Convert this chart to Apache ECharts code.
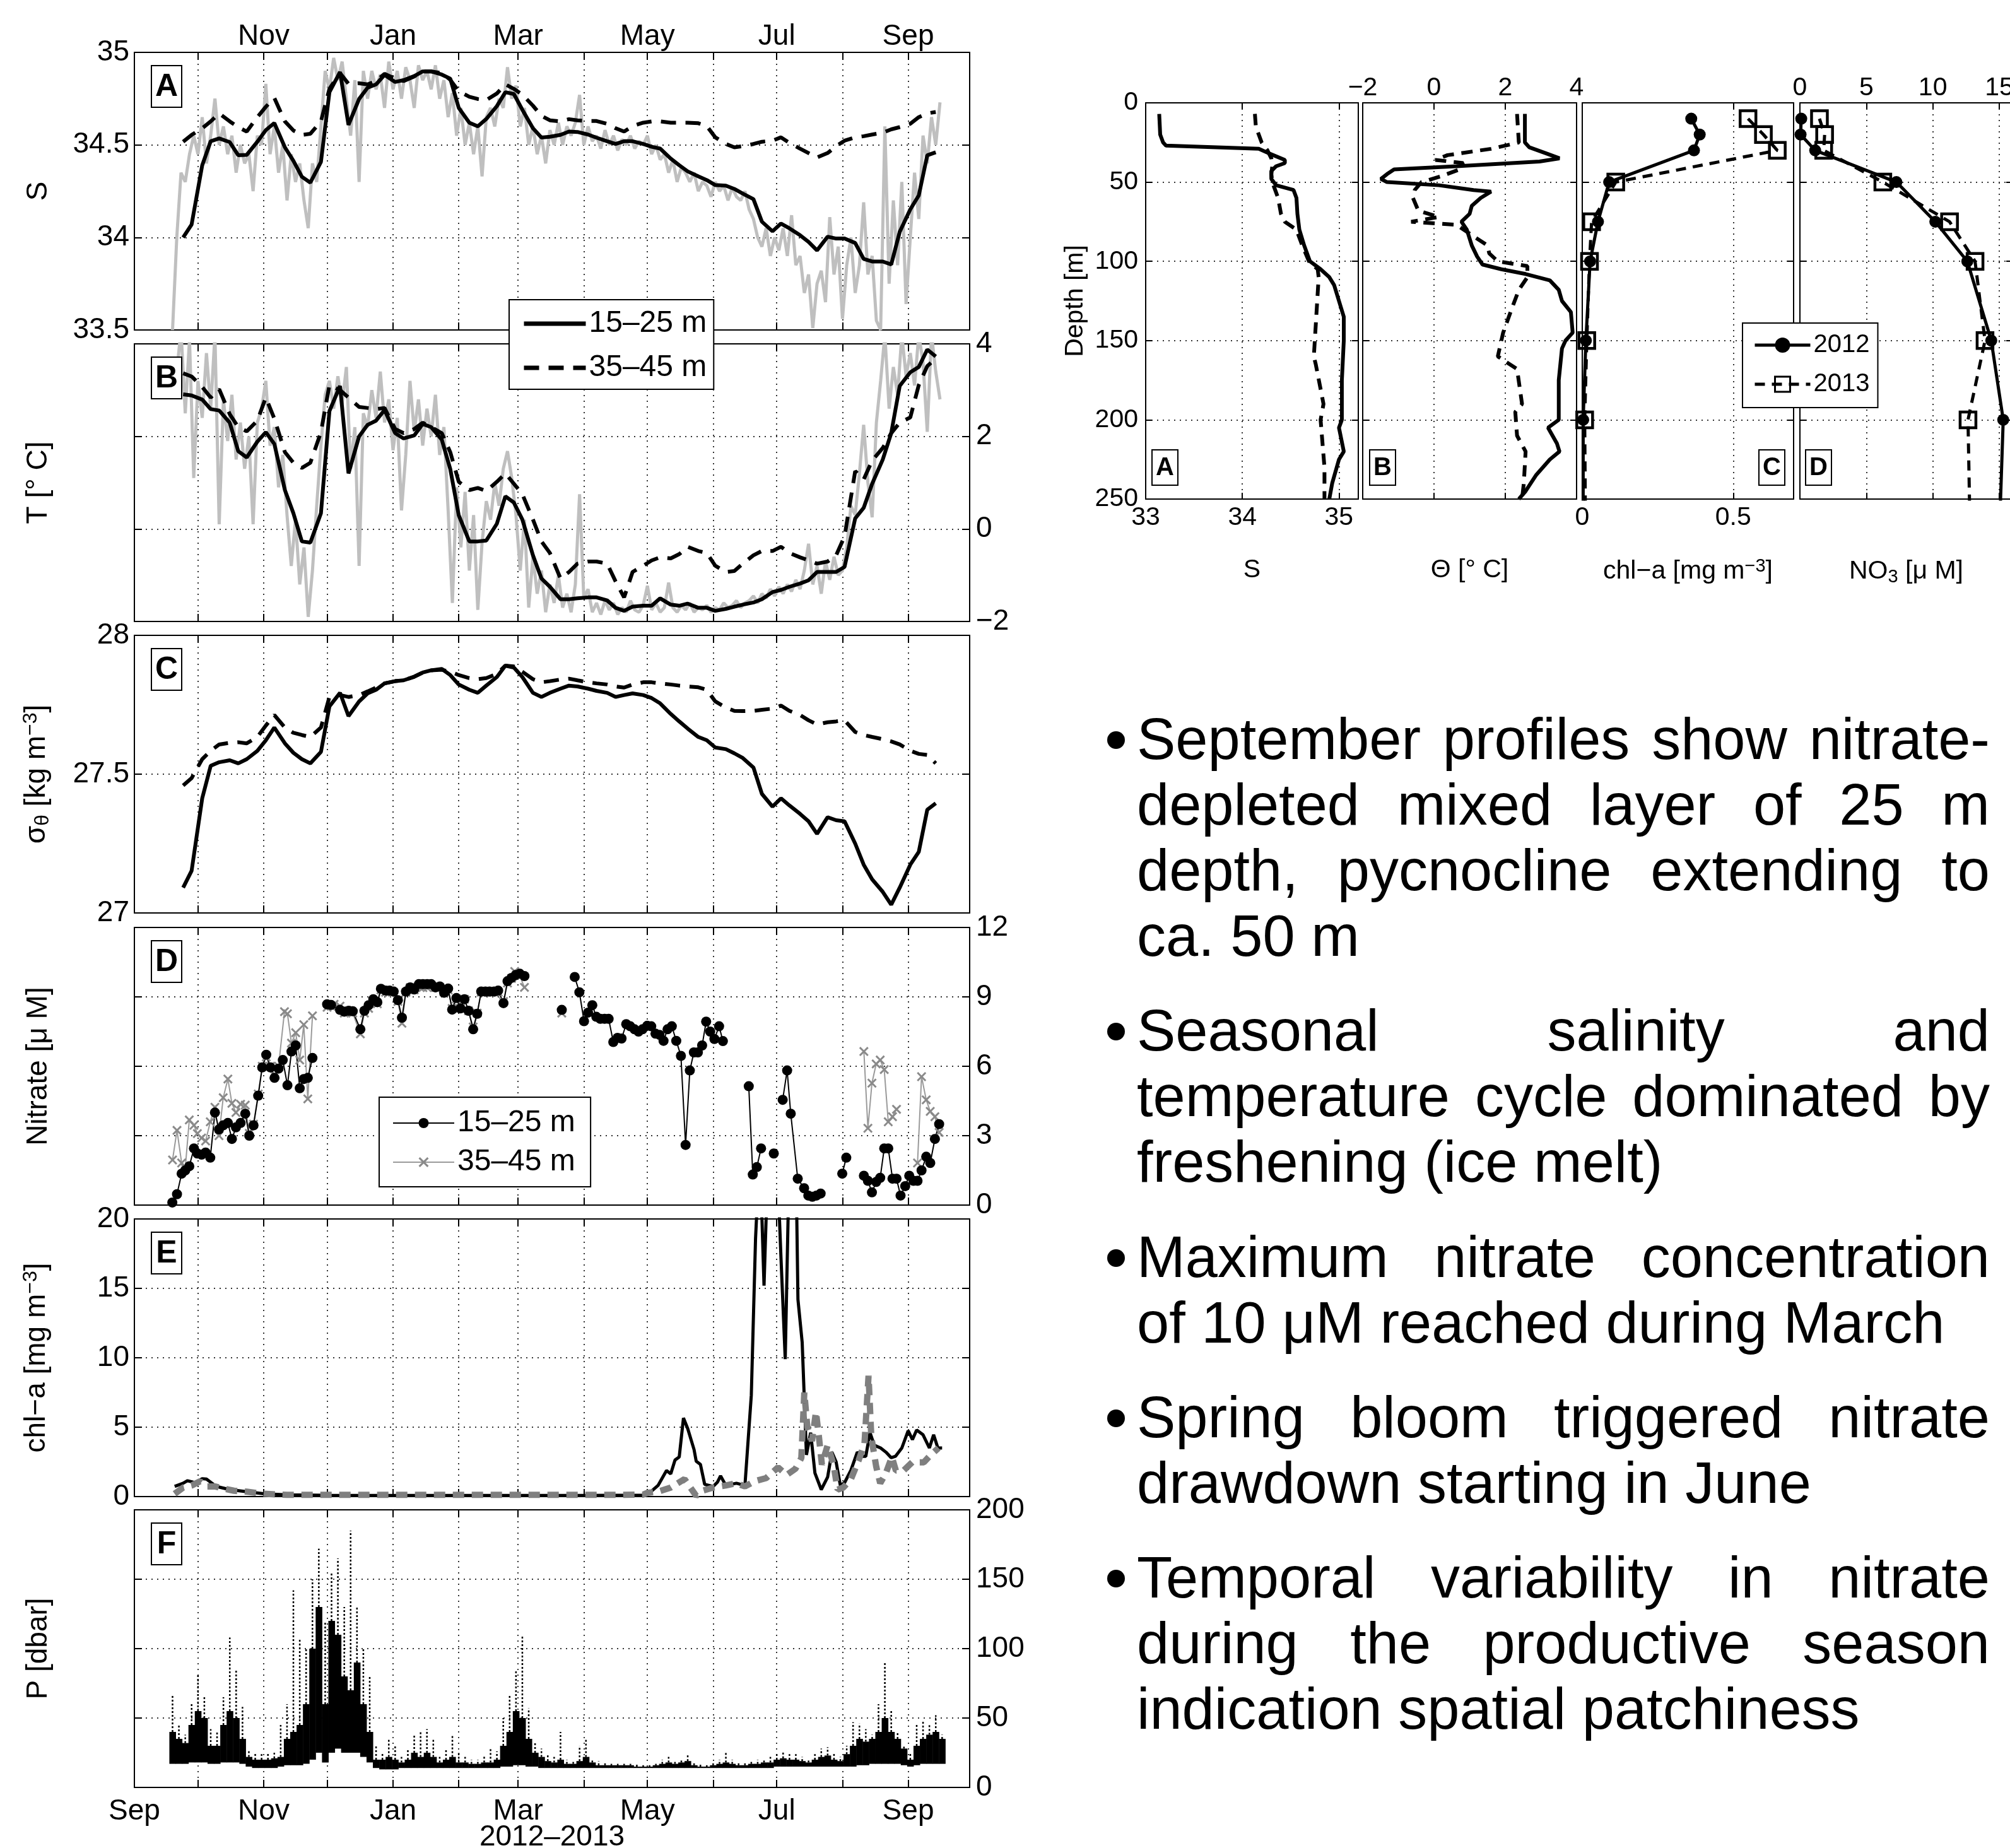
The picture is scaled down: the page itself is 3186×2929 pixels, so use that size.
<!DOCTYPE html>
<html>
<head>
<meta charset="utf-8">
<title>Mooring time series 2012-2013 and September profiles</title>
<script src="https://cdn.jsdelivr.net/npm/echarts@6.0.0/dist/echarts.min.js"></script>
<style>
  html, body { margin: 0; padding: 0; background: #fff; }
  #chart { width: 3186px; height: 2929px; }
</style>
</head>
<body>
<div id="chart"></div>
<script>
// ---------- data (days counted from 1 Sep 2012) ----------
const monthDays = [0, 30, 61, 91, 122, 153, 181, 212, 242, 273, 303, 334, 365];
const monthNames = ['Sep', 'Oct', 'Nov', 'Dec', 'Jan', 'Feb', 'Mar', 'Apr', 'May', 'Jun', 'Jul', 'Aug', 'Sep'];
const bottomMonthLabels = [0, 61, 122, 181, 242, 303, 365];
const topMonthLabels = [61, 122, 181, 242, 303, 365];

const sTicks = [33.5, 34, 34.5, 35];
const tTicks = [-2, 0, 2, 4];
const sigTicks = [27, 27.5, 28];
const nitTicks = [0, 3, 6, 9, 12];
const chlTicks = [0, 5, 10, 15, 20];
const pTicks = [0, 50, 100, 150, 200];
const depthTicks = [0, 50, 100, 150, 200, 250];
const salProfTicks = [33, 34, 35];
const thetaProfTicks = [-2, 0, 2, 4];
const chlProfTicks = [0, 0.5];
const no3ProfTicks = [0, 5, 10, 15];

// weekly-ish smoothed series (panels A-C)
const wkDays = [23, 27, 32, 36, 40, 45, 49, 53, 58, 62, 66, 71, 75, 79, 83, 88, 92, 97, 101, 106,
  110, 114, 118, 123, 127, 132, 136, 140, 145, 149, 153, 158, 162, 166, 171, 175, 179, 183, 188, 192,
  196, 201, 205, 209, 214, 218, 223, 227, 231, 235, 240, 244, 248, 253, 257, 261, 266, 270, 274, 279,
  283, 287, 292, 296, 301, 305, 309, 314, 318, 322, 327, 331, 335, 340, 344, 348, 353, 357, 361, 366,
  370, 374, 378];
const sShallow = [34.0, 34.07, 34.39, 34.52, 34.535, 34.515, 34.444, 34.446, 34.517, 34.58,
  34.618, 34.487, 34.414, 34.328, 34.296, 34.408, 34.785, 34.894, 34.608, 34.748,
  34.809, 34.827, 34.878, 34.84, 34.85, 34.872, 34.897, 34.897, 34.88, 34.858,
  34.70, 34.62, 34.60, 34.64, 34.71, 34.785, 34.775, 34.69, 34.59, 34.54,
  34.544, 34.554, 34.572, 34.57, 34.556, 34.539, 34.52, 34.505, 34.52, 34.52,
  34.505, 34.49, 34.48, 34.426, 34.39, 34.357, 34.33, 34.31, 34.283, 34.28,
  34.262, 34.237, 34.207, 34.085, 34.033, 34.075, 34.049, 34.012, 33.976, 33.93,
  34.004, 33.994, 33.994, 33.97, 33.884, 33.87, 33.87, 33.854, 34.03, 34.152,
  34.227, 34.444, 34.46];
const sDeep = [34.517, 34.554, 34.59, 34.627, 34.67, 34.627, 34.596, 34.572, 34.65, 34.706,
  34.754, 34.627, 34.578, 34.554, 34.56, 34.627, 34.803, 34.888, 34.83, 34.833,
  34.827, 34.845, 34.884, 34.858, 34.845, 34.87, 34.897, 34.897, 34.888, 34.852,
  34.79, 34.76, 34.748, 34.742, 34.778, 34.827, 34.803, 34.772, 34.712, 34.657,
  34.633, 34.627, 34.639, 34.633, 34.629, 34.629, 34.614, 34.59, 34.572, 34.602,
  34.62, 34.627, 34.627, 34.62, 34.62, 34.62, 34.617, 34.602, 34.541, 34.505,
  34.487, 34.493, 34.505, 34.517, 34.523, 34.541, 34.511, 34.48, 34.456, 34.432,
  34.456, 34.493, 34.523, 34.541, 34.547, 34.556, 34.566, 34.584, 34.596, 34.614,
  34.65, 34.67, 34.678];
const tShallow = [2.91, 2.886, 2.795, 2.59, 2.56, 2.295, 1.68, 1.545, 1.886, 2.09,
  1.84, 0.84, 0.34, -0.27, -0.295, 0.34, 2.545, 3.09, 1.2, 2.0,
  2.25, 2.34, 2.57, 2.07, 1.955, 2.02, 2.27, 2.2, 1.93, 1.295,
  0.295, -0.27, -0.27, -0.25, 0.114, 0.705, 0.57, 0.205, -0.57, -1.07,
  -1.25, -1.52, -1.52, -1.5, -1.48, -1.48, -1.545, -1.705, -1.77, -1.68,
  -1.66, -1.66, -1.5, -1.636, -1.66, -1.614, -1.705, -1.705, -1.77, -1.727,
  -1.68, -1.636, -1.59, -1.52, -1.364, -1.318, -1.25, -1.18, -1.11, -0.93,
  -0.93, -0.93, -0.82, 0.227, 0.455, 0.977, 1.5, 2.07, 3.09, 3.386,
  3.5, 3.877, 3.727];
const tDeep = [3.364, 3.295, 3.068, 2.84, 3.02, 2.477, 2.2, 2.11, 2.34, 2.84,
  2.386, 1.66, 1.43, 1.318, 1.43, 2.09, 3.11, 3.0, 2.84, 2.636,
  2.614, 2.59, 2.614, 2.16, 2.07, 2.16, 2.295, 2.2, 2.07, 1.66,
  1.02, 0.84, 0.886, 0.82, 1.02, 1.2, 0.977, 0.75, 0.205, -0.27,
  -0.52, -1.07, -0.93, -0.75, -0.705, -0.705, -0.75, -1.136, -1.48, -0.93,
  -0.795, -0.68, -0.614, -0.636, -0.545, -0.386, -0.477, -0.52, -0.795, -0.93,
  -0.91, -0.75, -0.57, -0.477, -0.477, -0.386, -0.52, -0.614, -0.68, -0.75,
  -0.705, -0.57, -0.16, 1.25, 1.07, 1.477, 1.75, 2.07, 2.295, 2.41,
  3.11, 3.52, 3.68];
const sigShallow = [27.091, 27.152, 27.413, 27.53, 27.543, 27.55, 27.539, 27.554, 27.584, 27.622,
  27.668, 27.611, 27.577, 27.554, 27.539, 27.58, 27.744, 27.793, 27.709, 27.762,
  27.791, 27.804, 27.827, 27.835, 27.838, 27.851, 27.866, 27.874, 27.879, 27.857,
  27.823, 27.804, 27.793, 27.819, 27.85, 27.891, 27.884, 27.85, 27.793, 27.778,
  27.793, 27.808, 27.819, 27.816, 27.808, 27.8, 27.793, 27.778, 27.785, 27.791,
  27.785, 27.774, 27.755, 27.717, 27.69, 27.664, 27.634, 27.622, 27.596, 27.59,
  27.575, 27.558, 27.524, 27.429, 27.383, 27.413, 27.387, 27.357, 27.33, 27.285,
  27.345, 27.334, 27.33, 27.25, 27.174, 27.121, 27.076, 27.03, 27.091, 27.174,
  27.22, 27.372, 27.395];
const sigDeep = [27.459, 27.486, 27.554, 27.584, 27.607, 27.613, 27.615, 27.611, 27.634, 27.675,
  27.713, 27.668, 27.649, 27.641, 27.634, 27.668, 27.778, 27.785, 27.778, 27.785,
  27.798, 27.812, 27.827, 27.835, 27.838, 27.851, 27.866, 27.874, 27.876, 27.869,
  27.857, 27.846, 27.842, 27.846, 27.861, 27.891, 27.888, 27.869, 27.842, 27.831,
  27.835, 27.841, 27.844, 27.838, 27.831, 27.827, 27.823, 27.816, 27.812, 27.823,
  27.831, 27.831, 27.827, 27.823, 27.819, 27.816, 27.813, 27.804, 27.762, 27.74,
  27.728, 27.727, 27.728, 27.732, 27.736, 27.747, 27.728, 27.713, 27.694, 27.679,
  27.687, 27.69, 27.694, 27.652, 27.641, 27.634, 27.626, 27.618, 27.607, 27.584,
  27.573, 27.569, 27.539];

// raw 15-25 m record (grey, panels A and B)
const rawDays = [18, 20, 22, 24, 26, 28, 30, 32, 34, 36, 38, 40, 42, 44, 46, 48, 50, 52, 54, 56,
  58, 60, 62, 64, 66, 68, 70, 72, 74, 76, 78, 80, 82, 84, 86, 88, 90, 92, 94, 96,
  98, 100, 102, 104, 106, 108, 110, 112, 114, 116, 118, 120, 122, 124, 126, 128, 130, 132, 134, 136,
  138, 140, 142, 144, 146, 148, 150, 152, 154, 156, 158, 160, 162, 164, 166, 168, 170, 172, 174, 176,
  178, 180, 182, 184, 186, 188, 190, 192, 194, 196, 198, 200, 202, 204, 206, 208, 210, 212, 214, 216,
  218, 220, 222, 224, 226, 228, 230, 232, 234, 236, 238, 240, 242, 244, 246, 248, 250, 252, 254, 256,
  258, 260, 262, 264, 266, 268, 270, 272, 274, 276, 278, 280, 282, 284, 286, 288, 290, 292, 294, 296,
  298, 300, 302, 304, 306, 308, 310, 312, 314, 316, 318, 320, 322, 324, 326, 328, 330, 332, 334, 336,
  338, 340, 342, 344, 346, 348, 350, 352, 354, 356, 358, 360, 362, 364, 366, 368, 370, 372, 374, 376,
  378, 380];
const rawS = [33.5, 34.0, 34.35, 34.3, 34.45, 34.55, 34.45, 34.65, 34.4, 34.55,
  34.75, 34.5, 34.6, 34.45, 34.55, 34.35, 34.5, 34.4, 34.45, 34.25,
  34.55, 34.5, 34.83, 34.45, 34.6, 34.35, 34.5, 34.2, 34.45, 34.3,
  34.4, 34.2, 34.05, 34.4, 34.3, 34.6, 34.9, 34.8, 34.97, 34.85,
  34.95, 34.75, 34.55, 34.85, 34.3, 34.9, 34.75, 34.9, 34.8, 34.88,
  34.7, 34.95, 34.8, 34.9, 34.75, 34.92, 34.85, 34.7, 34.93, 34.85,
  34.9, 34.8, 34.93, 34.75, 34.85, 34.65, 34.78, 34.55, 34.7, 34.5,
  34.62, 34.45, 34.6, 34.33, 34.65, 34.7, 34.6, 34.75, 34.7, 34.92,
  34.75, 34.82, 34.6, 34.7, 34.5, 34.6, 34.45, 34.55, 34.4, 34.58,
  34.5, 34.62, 34.5, 34.6, 34.55, 34.62, 34.77, 34.5, 34.6, 34.52,
  34.55, 34.48, 34.58, 34.5, 34.55, 34.47, 34.53, 34.5, 34.55, 34.48,
  34.52, 34.5, 34.55, 34.45, 34.5, 34.42, 34.45, 34.35, 34.42, 34.3,
  34.38, 34.35, 34.3, 34.35, 34.25, 34.3, 34.28, 34.22, 34.3, 34.25,
  34.28, 34.2, 34.27, 34.22, 34.2, 34.25, 34.15, 34.1, 34.0, 33.95,
  34.05, 33.9, 34.0, 33.93, 34.05, 33.9, 34.12, 33.85, 33.9, 33.7,
  33.8, 33.51, 33.75, 33.82, 33.65, 34.11, 33.8, 33.95, 33.56, 33.85,
  34.0, 33.7, 33.85, 34.19, 33.8, 33.9, 33.55, 33.5, 34.6, 33.75,
  34.2, 33.85, 34.3, 33.64, 34.0, 34.35, 34.1, 34.55, 34.4, 34.65,
  34.5, 34.73];
const rawT = [3.0, 3.4, 4.3, 2.5, 4.1, 1.1, 3.2, 2.4, 3.8, 2.6,
  4.2, 0.1, 2.8, 1.9, 2.9, 1.5, 2.3, 1.3, 2.0, 0.1,
  2.3, 2.6, 3.2, 1.8, 2.2, 0.9, 1.6, 0.3, -0.8, 0.2,
  -1.2, -0.4, -1.9, -0.9, 0.5, 1.8, 2.9, 3.2, 2.6, 3.3,
  2.7, 3.5, 1.3, 2.2, -0.8, 2.5, 2.2, 3.0, 2.4, 3.4,
  2.3, 2.8, 1.7, 2.4, 0.4, 1.6, 3.2, 2.1, 2.8, 1.8,
  2.6, 2.0, 2.9, 1.6, 2.2, 0.4, -1.6, 0.9, -0.4, 0.8,
  -0.9, 0.3, -1.75, -0.3, 0.6, 0.2, 1.0, 0.5, 1.3, 1.68,
  1.1, 0.3, -0.9, 0.2, -1.7, -0.6, -1.4, -0.9, -1.8, -1.2,
  -1.6, -1.0, -1.7, -1.4, -1.8, -1.2, 0.75, -1.5, -1.3, -1.8,
  -1.6, -1.85, -1.55, -1.75, -1.6, -1.85, -1.7, -1.8, -1.55, -1.75,
  -1.8, -1.65, -1.23, -1.75, -1.6, -1.8, -1.7, -1.16, -1.7, -1.8,
  -1.65, -1.75, -1.6, -1.8, -1.7, -1.75, -1.65, -1.8, -1.7, -1.75,
  -1.6, -1.7, -1.65, -1.55, -1.7, -1.6, -1.55, -1.45, -1.6, -1.4,
  -1.5, -1.3, -1.45, -1.25, -1.4, -1.2, -1.35, -1.1, -1.3, -0.9,
  -0.32, -1.2, -0.8, -1.4, -0.7, -1.1, -0.6, -1.0, -0.9, -0.4,
  0.5, 0.3, 1.2, 2.25, 1.0, 0.25, 2.3, 3.2, 4.2, 2.6,
  3.5, 2.9, 4.2, 3.3, 3.8, 3.1, 4.2, 3.6, 2.1, 4.2,
  3.4, 2.8];

// nitrate (panel D), null = gap in record
const nShallowDays = [17.9, 20.1, 22.3, 24, 25.9, 28.1, 29.7, 31.7, 33.6, 35.8,
  38, 39.9, 41.9, 44.1, 46, 47.9, 50.1, 52.3, 54.2, 56.2,
  58.4, 60.3, 62.2, 64.2, 66.1, 68, 70, 72.2, 74.1, 76.1,
  78, 79.9, 81.8, 84, 87, 90.9, 92.8, 97, 99, 101.1,
  103, 106.6, 108.5, 110.5, 112.7, 114.6, 116.3, 118.5, 120.4, 122.3,
  124.3, 126.2, 128.1, 130.1, 132, 134.2, 136.1, 138.1, 140, 142,
  144.1, 146.1, 148, 149.9, 151.9, 153.8, 155.7, 157.6, 159.8, 161.7,
  163.6, 165.6, 167.5, 169.7, 171.6, 174.1, 176, 177.9, 179.9, 181.8,
  184, 190, 201.6, 205, 207.7, 209.9, 212.1, 214, 216, 217.9,
  219.8, 221.8, 223.7, 225.9, 227.9, 229.8, 232, 233.9, 235.9, 237.8,
  239.7, 241.9, 243.8, 245.8, 247.7, 249.6, 251.5, 253.5, 255.6, 257.8,
  260, 262, 263.9, 265.8, 267.8, 269.7, 271.6, 273.6, 275.8, 277.6,
  283, 289.8, 291.7, 293.6, 295.6, 299, 301.6, 303, 305.8, 307.9,
  309.6, 312.9, 315.9, 317.9, 319.8, 321.7, 323.7, 328, 333.9, 335.8,
  340, 344.1, 346, 347.9, 349.9, 351.8, 353.7, 355.6, 357.6, 359.5,
  361.4, 363.6, 365.5, 367.5, 369.4, 371.3, 373.5, 375.4, 377.6, 379.6];
const nShallow = [0.11, 0.47, 1.36, 1.5, 1.68, 2.45, 2.23, 2.18, 2.27, 2.05,
  4.0, 3.27, 3.45, 3.55, 2.86, 3.36, 3.55, 3.95, 3.0, 3.45,
  4.73, 5.95, 6.5, 5.95, 5.5, 5.9, 6.27, 5.18, 6.64, 6.9,
  5.05, 5.45, 5.5, 6.36, null, 8.68, 8.65, 8.44, 8.36, 8.4,
  8.38, 7.6, 8.4, 8.64, 8.9, 8.77, 9.35, 9.27, 9.27, 9.23,
  8.86, 8.1, 9.23, 9.41, 9.32, 9.55, 9.55, 9.55, 9.55, 9.41,
  9.45, 9.18, 9.36, 8.45, 8.95, 8.5, 8.9, 8.4, 7.6, 8.27,
  9.23, 9.23, 9.23, 9.23, 9.27, 8.73, 9.68, 9.82, 9.95, 10.0,
  9.9, null, 8.44, null, 9.86, 9.2, 7.95, 8.32, 8.64, 8.14,
  8.05, 8.05, 8.05, 7.05, 7.23, 7.2, 7.82, 7.73, 7.6, 7.5,
  7.6, 7.75, 7.73, 7.41, 7.36, 7.1, 7.6, 7.73, 7.1, 6.45,
  2.6, 5.82, 6.6, 6.6, 6.9, 7.93, 7.5, 7.18, 7.73, 7.09,
  null, 5.14, 1.32, 1.64, 2.45, null, 2.23, null, 4.55, 5.82,
  3.95, 1.14, 0.73, 0.41, 0.36, 0.41, 0.5, null, 1.36, 2.05,
  null, 1.27, 1.05, 0.55, 1.0, 1.18, 2.45, 2.45, 1.14, 1.14,
  0.41, 0.82, 1.27, 1.05, 1.05, 1.5, 2.09, 1.82, 2.86, 3.5];
const nDeepDays = [18, 20.1, 22.3, 24, 25.9, 28.1, 29.7, 31.7, 33.6, 35.8,
  38, 39.9, 41.9, 44.1, 46, 47.9, 50.1, 52.3, 54.2, 56.2,
  58.4, 60.3, 62.2, 64.2, 66.1, 68, 70.8, 72.2, 74.1, 76.1,
  78, 79.9, 81.8, 84, 87, 90.9, 92.8, 94.2, 97, 99,
  101.1, 103, 106.6, 108.5, 110.5, 112.7, 114.6, 116.3, 118.5, 120.4,
  122.3, 124.3, 126.2, 128.1, 130.1, 132, 134.2, 136.1, 138.1, 140,
  142, 144.1, 146.1, 148, 149.9, 151.9, 153.8, 155.7, 157.6, 159.8,
  161.7, 163.6, 165.6, 167.5, 169.7, 171.6, 174.1, 176, 177.9, 179.4,
  181.8, 184, 190, 201.6, 300, 344.1, 346, 347.9, 349.9, 351.8,
  353.7, 355.6, 357.6, 359.5, 364, 369.4, 371.3, 373.5, 375.4, 377.6,
  379.6];
const nDeep = [1.95, 3.23, 1.82, 1.6, 3.68, 3.45, 3.09, 2.9, 2.77, 3.6,
  4.23, 3.0, 4.64, 5.45, 4.4, 4.0, 4.36, 4.32, 3.1, 3.5,
  4.8, 6.0, 6.4, 6.0, 5.6, 6.0, 8.36, 8.27, 7.0, 7.45,
  6.27, 7.8, 4.59, 8.18, null, 8.55, 8.6, 8.68, 8.6, 8.3,
  8.4, 8.3, 7.4, 8.3, 8.5, 8.8, 8.7, 9.3, 9.2, 9.2,
  9.2, 8.8, 7.86, 9.2, 9.4, 9.3, 9.45, 9.4, 9.4, 9.5,
  9.4, 9.4, 9.2, 9.3, 8.5, 8.9, 8.5, 8.9, 8.4, 7.7,
  8.3, 9.2, 9.2, 9.2, 9.2, 9.2, 8.8, 9.6, 9.8, 10.1,
  9.9, 9.41, null, 8.3, null, 6.64, 3.32, 5.27, 6.1, 6.27,
  5.86, 3.6, 3.82, 4.14, null, 1.82, 5.55, 4.55, 4.05, 3.82,
  3.14];

// chlorophyll (panel E)
const eShallowDays = [19, 23, 25, 29, 32, 34, 38, 40, 45, 53, 61, 72, 91, 120, 150, 180, 210, 240, 243, 247,
  251, 253, 255, 257, 259, 261, 264, 265, 267, 269, 273, 275, 276.5, 279, 281.5, 284, 288, 291, 293, 295,
  297, 299, 303, 305, 307, 309, 312, 313, 315, 317, 319, 321, 324, 327, 329, 331, 333, 335, 338, 341,
  343, 345, 347, 349, 352, 354.5, 357, 359, 362, 365, 367, 369, 372, 375, 377, 379, 381];
const eShallow = [0.73, 0.96, 1.14, 0.99, 1.29, 1.26, 0.8, 0.68, 0.5, 0.35, 0.2, 0.12, 0.09, 0.08, 0.08, 0.08, 0.08, 0.1, 0.27, 0.8,
  1.87, 1.64, 2.63, 2.85, 5.66, 4.9, 3.38, 2.55, 2.32, 0.88, 0.73, 1.03, 1.49, 0.8, 0.88, 0.96, 0.8, 7.3, 18.6, 25,
  15.2, 25, 25, 17.2, 9.9, 25, 25, 14.2, 11.1, 3.0, 4.6, 1.7, 0.5, 1.4, 3.2, 2.5, 0.8, 1.0, 1.9, 3.2,
  2.9, 2.9, 4.6, 3.7, 3.5, 3.2, 2.8, 2.9, 3.5, 4.75, 4.1, 4.8, 4.45, 3.5, 4.45, 3.5, 3.5];
const eDeepDays = [19, 23, 27, 31, 34, 38, 42, 47, 53, 61, 72, 100, 130, 160, 190, 220, 240, 242, 247, 253,
  259.5, 265, 268, 273, 279, 284, 288, 292.5, 298, 303.6, 307.7, 311.8, 314.6, 316, 317.4, 319.6, 321.5, 322.9, 324.3, 327,
  329.8, 331.7, 334.4, 338, 341.6, 344.4, 346.3, 347.6, 349.9, 351.8, 354.5, 357.3, 359.2, 362.8, 366.9, 372.4, 375.2, 379.3];
const eDeep = [0.2, 0.65, 0.8, 1.1, 0.73, 0.73, 0.58, 0.42, 0.35, 0.2, 0.12, 0.12, 0.12, 0.12, 0.12, 0.12, 0.14, 0.27, 0.35, 0.65,
  1.26, 0.05, 0.42, 0.65, 0.8, 0.96, 0.73, 1.1, 1.33, 2.1, 1.56, 2.0, 2.78, 7.5, 5.05, 4.0, 6.1, 4.3, 2.3, 3.7,
  2.3, 0.5, 0.65, 1.26, 2.6, 3.84, 8.7, 4.3, 2.17, 0.96, 1.7, 2.85, 1.87, 1.87, 2.47, 2.47, 2.93, 3.5];

// pressure (panel F): 3-day bins, lower edge / dense band top / highest excursion
const pDays = [18, 21, 24, 27, 30, 33, 36, 39, 42, 45, 48, 51, 54, 57, 60, 63, 66, 69, 72, 75,
  78, 81, 84, 87, 90, 93, 96, 99, 102, 105, 108, 111, 114, 117, 120, 123, 126, 129, 132, 135,
  138, 141, 144, 147, 150, 153, 156, 159, 162, 165, 168, 171, 174, 177, 180, 183, 186, 189, 192, 195,
  198, 201, 204, 207, 210, 213, 216, 219, 222, 225, 228, 231, 234, 237, 240, 243, 246, 249, 252, 255,
  258, 261, 264, 267, 270, 273, 276, 279, 282, 285, 288, 291, 294, 297, 300, 303, 306, 309, 312, 315,
  318, 321, 324, 327, 330, 333, 336, 339, 342, 345, 348, 351, 354, 357, 360, 363, 366, 369, 372, 375,
  378, 381];
const pLow = [17, 17, 17, 18, 18, 18, 17, 17, 18, 18, 18, 17, 15, 14, 14, 14, 14, 15, 16, 16,
  16, 17, 20, 25, 18, 25, 28, 25, 25, 25, 22, 18, 14, 13, 13, 13, 14, 14, 14, 14,
  14, 14, 14, 14, 14, 14, 14, 14, 14, 14, 14, 14, 15, 15, 16, 16, 15, 15, 14, 14,
  14, 14, 14, 14, 14, 14, 14, 14, 14, 14, 14, 14, 14, 14, 14, 14, 14, 14, 14, 14,
  14, 14, 14, 14, 14, 14, 14, 14, 14, 14, 14, 14, 14, 14, 14, 15, 15, 15, 15, 15,
  15, 15, 15, 15, 15, 15, 15, 15, 16, 16, 17, 17, 17, 17, 17, 16, 15, 16, 17, 17,
  17, 17];
const pCore = [40, 35, 32, 45, 55, 50, 30, 30, 45, 55, 50, 35, 22, 20, 20, 20, 21, 22, 35, 40,
  45, 60, 100, 130, 60, 120, 110, 80, 70, 90, 60, 40, 20, 20, 22, 20, 18, 20, 25, 22,
  25, 22, 18, 20, 22, 18, 18, 17, 17, 18, 18, 20, 30, 40, 55, 50, 35, 25, 22, 19,
  18, 20, 17, 17, 19, 22, 18, 16, 16, 16, 16, 16, 16, 15, 15, 15, 16, 17, 18, 17,
  18, 19, 16, 15, 15, 16, 17, 18, 17, 16, 16, 17, 17, 18, 18, 20, 21, 20, 20, 19,
  18, 20, 22, 23, 20, 19, 24, 30, 35, 33, 35, 40, 50, 40, 35, 28, 20, 30, 35, 38,
  40, 35];
const pTop = [66, 45, 38, 60, 81, 65, 42, 40, 65, 108, 85, 58, 27, 25, 24, 25, 25, 45, 60, 142,
  107, 100, 150, 172, 120, 155, 165, 130, 185, 130, 100, 80, 30, 25, 35, 30, 22, 28, 38, 40,
  42, 35, 22, 28, 37, 25, 22, 20, 20, 23, 28, 26, 50, 66, 85, 110, 57, 32, 28, 24,
  22, 40, 20, 19, 30, 35, 20, 19, 18, 17, 17, 17, 17, 17, 16, 16, 17, 20, 22, 19,
  20, 24, 18, 17, 16, 18, 20, 25, 20, 18, 18, 19, 20, 20, 22, 24, 26, 24, 24, 22,
  20, 24, 28, 29, 25, 22, 30, 47, 46, 42, 38, 60, 90, 55, 40, 30, 25, 45, 48, 45,
  52, 38];

// September profiles
const sal12Depth = [7, 20, 25, 27, 29, 32, 36, 38, 40, 43, 48, 52, 55, 60, 70, 80, 90, 100, 105, 110, 115, 125, 135, 150, 175, 200, 205, 220, 225, 240, 250];
const sal12 = [33.14, 33.15, 33.18, 33.21, 34.17, 34.28, 34.44, 34.44, 34.35, 34.30, 34.30, 34.35, 34.53, 34.56, 34.57, 34.59, 34.64, 34.70, 34.81, 34.90, 34.95, 35.0, 35.05, 35.05, 35.03, 35.03, 35.0, 35.05, 35.0, 34.93, 34.90];
const sal13Depth = [7, 15, 20, 25, 30, 35, 40, 45, 50, 60, 70, 75, 80, 90, 100, 105, 110, 130, 160, 165, 190, 200, 230, 250];
const sal13 = [34.13, 34.14, 34.17, 34.20, 34.26, 34.30, 34.31, 34.30, 34.31, 34.37, 34.40, 34.44, 34.56, 34.62, 34.69, 34.78, 34.79, 34.77, 34.74, 34.76, 34.84, 34.81, 34.85, 34.85];
const tem12Depth = [7, 25, 28, 32, 35, 37, 40, 42, 45, 48, 50, 52, 55, 56, 60, 65, 70, 75, 80, 90, 97, 102, 105, 108, 112, 118, 125, 132, 145, 150, 155, 175, 200, 205, 215, 220, 225, 235, 245, 250];
const tem12 = [2.55, 2.55, 2.67, 3.16, 3.52, 2.96, 0.63, -1.12, -1.32, -1.49, -1.32, 0.14, 1.11, 1.60, 1.31, 1.06, 1.0, 0.77, 0.92, 1.06, 1.21, 1.36, 1.89, 2.57, 3.25, 3.50, 3.59, 3.84, 3.89, 3.69, 3.59, 3.50, 3.50, 3.20, 3.45, 3.52, 3.25, 2.86, 2.57, 2.38];
const tem13Depth = [7, 25, 29, 33, 36, 38, 42, 46, 50, 55, 60, 68, 72, 75, 77, 90, 95, 100, 103, 110, 118, 130, 145, 160, 168, 190, 195, 210, 220, 240, 250];
const tem13 = [2.33, 2.38, 1.60, 0.38, 0.04, 0.82, 0.72, 0.24, -0.35, -0.54, -0.59, -0.44, 0.14, -0.64, 0.63, 1.50, 1.55, 1.79, 2.62, 2.62, 2.38, 2.18, 1.94, 1.79, 2.33, 2.47, 2.28, 2.33, 2.57, 2.52, 2.47];
const bottleDepth = [10, 20, 30, 50, 75, 100, 150, 200, 300];
const chl12 = [0.361, 0.389, 0.37, 0.089, 0.052, 0.026, 0.012, 0.003, 0.003];
const chl13 = [0.549, 0.60, 0.646, 0.111, 0.031, 0.024, 0.015, 0.008, 0.012];
const no3_12 = [0.1, 0.05, 1.15, 7.26, 10.19, 12.6, 14.4, 15.3, 14.9];
const no3_13 = [1.47, 1.86, 1.79, 6.24, 11.26, 13.18, 13.93, 12.65, 12.87];

const bullets = [
  ['September profiles show nitrate-', 'depleted mixed layer of 25 m', 'depth, pycnocline extending to', 'ca. 50 m'],
  ['Seasonal salinity and', 'temperature cycle dominated by', 'freshening (ice melt)'],
  ['Maximum nitrate concentration', 'of 10 \u03bcM reached during March'],
  ['Spring bloom triggered nitrate', 'drawdown starting in June'],
  ['Temporal variability in nitrate', 'during the productive season', 'indication spatial patchiness']
];

// ---------- layout ----------
const FONT = 'Liberation Sans';
const FS = 46;       // left panel labels
const PFS = 41;      // profile labels
const panelTops = [83, 545, 1007, 1470, 1932, 2393];
const profLefts = [1816, 2160, 2508, 2853];
const profWidths = [337, 339, 335, 337];
const dotted = { color: '#333', width: 2, type: [2, 7] };

function pairs(xs, ys) {
  return xs.map((x, i) => [x, ys[i] === null ? '-' : ys[i]]);
}
function fmtNum(v) {
  return v < 0 ? '\u2212' + String(-v) : String(v);
}
function fmtMonth(v) {
  return monthNames[monthDays.indexOf(v)];
}
function richFor(fs) {
  const small = Math.round(fs * 0.7);
  const shift = Math.round(fs * 0.42);
  return {
    sub: { fontSize: small, fontFamily: FONT, color: '#000', padding: [shift, 0, 0, 0] },
    sup: { fontSize: small, fontFamily: FONT, color: '#000', padding: [0, 0, shift, 0] }
  };
}

function axis(o) {
  const fs = o.fs || FS;
  const a = {
    type: 'value',
    gridIndex: o.grid,
    position: o.pos,
    min: o.min,
    max: o.max,
    inverse: !!o.inverse,
    axisLine: { show: true, onZero: false, lineStyle: { color: '#000', width: 2 } },
    axisTick: { show: true, inside: true, length: o.tickLen || 12, customValues: o.ticks, lineStyle: { color: '#000', width: 2 } },
    axisLabel: { show: false },
    splitLine: { show: !!o.split, lineStyle: dotted },
    axisPointer: { show: false }
  };
  if (o.labels) {
    a.axisLabel = {
      show: true, customValues: o.labels, formatter: o.fmt || fmtNum,
      fontSize: fs, fontFamily: FONT, color: '#000', margin: o.margin
    };
  }
  if (o.name) {
    a.name = o.name;
    a.nameLocation = 'middle';
    a.nameGap = o.nameGap;
    a.nameRotate = o.nameRotate || 0;
    a.nameMoveOverlap = false;
    a.nameTextStyle = { fontSize: fs, fontFamily: FONT, color: '#000', rich: richFor(fs) };
  }
  return a;
}

const leftPanels = [
  { min: 33.5, max: 35, ticks: sTicks, side: 'left', name: 'S' },
  { min: -2, max: 4, ticks: tTicks, side: 'right', name: 'T [\u00b0 C]' },
  { min: 27, max: 28, ticks: sigTicks, side: 'left', name: '\u03c3{sub|\u03b8} [kg m{sup|\u22123}]' },
  { min: 0, max: 12, ticks: nitTicks, side: 'right', name: 'Nitrate [\u03bc M]' },
  { min: 0, max: 20, ticks: chlTicks, side: 'left', name: 'chl\u2212a [mg m{sup|\u22123}]' },
  { min: 0, max: 200, ticks: pTicks, side: 'right', name: 'P [dbar]' }
];
const profPanels = [
  { min: 33, max: 35.2, ticks: salProfTicks, side: 'bottom', name: 'S' },
  { min: -2, max: 4, ticks: thetaProfTicks, side: 'top', name: '\u0398 [\u00b0 C]' },
  { min: 0, max: 0.7, ticks: chlProfTicks, side: 'bottom', name: 'chl\u2212a [mg m{sup|\u22123}]' },
  { min: 0, max: 16, ticks: no3ProfTicks, side: 'top', name: 'NO{sub|3} [\u03bc M]' }
];

const grids = [];
const xAxes = [];
const yAxes = [];

leftPanels.forEach((p, i) => {
  grids.push({ left: 213, top: panelTops[i], width: 1324, height: 440, outerBoundsMode: 'none' });
  xAxes.push(axis({
    grid: i, pos: 'bottom', min: 0, max: 394, ticks: monthDays, split: true,
    labels: i === 5 ? bottomMonthLabels : null, fmt: fmtMonth, margin: 15,
    name: i === 5 ? '2012\u20132013' : '', nameGap: 56
  }));
  xAxes.push(axis({
    grid: i, pos: 'top', min: 0, max: 394, ticks: monthDays,
    labels: i === 0 ? topMonthLabels : null, fmt: fmtMonth, margin: 2
  }));
  yAxes.push(axis({
    grid: i, pos: 'left', min: p.min, max: p.max, ticks: p.ticks, split: true,
    labels: p.side === 'left' ? p.ticks : null, margin: 8,
    name: p.name, nameGap: 129, nameRotate: 90
  }));
  yAxes.push(axis({
    grid: i, pos: 'right', min: p.min, max: p.max, ticks: p.ticks,
    labels: p.side === 'right' ? p.ticks : null, margin: 10
  }));
});

profPanels.forEach((p, j) => {
  const g = 6 + j;
  grids.push({ left: profLefts[j], top: 163, width: profWidths[j], height: 628, outerBoundsMode: 'none' });
  xAxes.push(axis({
    grid: g, pos: 'bottom', min: p.min, max: p.max, ticks: p.ticks, split: true, fs: PFS, tickLen: 10,
    labels: p.side === 'bottom' ? p.ticks : null, margin: 9, name: p.name, nameGap: 92
  }));
  xAxes.push(axis({
    grid: g, pos: 'top', min: p.min, max: p.max, ticks: p.ticks, fs: PFS, tickLen: 10,
    labels: p.side === 'top' ? p.ticks : null, margin: 3
  }));
  yAxes.push(axis({
    grid: g, pos: 'left', min: 0, max: 250, inverse: true, ticks: depthTicks, split: true, fs: PFS, tickLen: 10,
    labels: j === 0 ? depthTicks : null, margin: 12,
    name: j === 0 ? 'Depth [m]' : '', nameGap: 91, nameRotate: 90
  }));
  yAxes.push(axis({
    grid: g, pos: 'right', min: 0, max: 250, inverse: true, ticks: depthTicks, fs: PFS, tickLen: 10
  }));
});

// ---------- series ----------
const crossPath = 'path://M0,1.4L1.4,0L5,3.6L8.6,0L10,1.4L6.4,5L10,8.6L8.6,10L5,6.4L1.4,10L0,8.6L3.6,5Z';
const DASH = [24, 15];

function lineSeries(name, panelAxis, data, style, extra) {
  return Object.assign({
    name: name,
    type: 'line',
    xAxisIndex: panelAxis,
    yAxisIndex: panelAxis,
    data: data,
    symbol: 'none',
    clip: true,
    silent: true,
    color: style.color,
    lineStyle: style
  }, extra || {});
}

const series = [
  lineSeries('S raw', 0, pairs(rawDays, rawS), { color: '#bfbfbf', width: 5 }),
  lineSeries('15\u201325 m', 0, pairs(wkDays, sShallow), { color: '#000', width: 6 }),
  lineSeries('35\u201345 m', 0, pairs(wkDays, sDeep), { color: '#000', width: 6, type: DASH }),
  lineSeries('T raw', 2, pairs(rawDays, rawT), { color: '#bfbfbf', width: 5 }),
  lineSeries('T 15-25', 2, pairs(wkDays, tShallow), { color: '#000', width: 6 }),
  lineSeries('T 35-45', 2, pairs(wkDays, tDeep), { color: '#000', width: 6, type: DASH }),
  lineSeries('sig 15-25', 4, pairs(wkDays, sigShallow), { color: '#000', width: 6 }),
  lineSeries('sig 35-45', 4, pairs(wkDays, sigDeep), { color: '#000', width: 6, type: DASH }),
  lineSeries('35\u201345 m ', 6, pairs(nDeepDays, nDeep), { color: '#9a9a9a', width: 2 }, {
    symbol: crossPath, symbolSize: 15, showSymbol: true, showAllSymbol: true,
    itemStyle: { color: '#8a8a8a' }
  }),
  lineSeries('15\u201325 m ', 6, pairs(nShallowDays, nShallow), { color: '#000', width: 2 }, {
    symbol: 'circle', symbolSize: 16, showSymbol: true, showAllSymbol: true,
    itemStyle: { color: '#000' }
  }),
  lineSeries('chl 15-25', 8, pairs(eShallowDays, eShallow), { color: '#000', width: 5 }),
  lineSeries('chl 35-45', 8, pairs(eDeepDays, eDeep), { color: '#7f7f7f', width: 10, type: [18, 12] }),
  {
    name: 'P',
    type: 'custom',
    xAxisIndex: 10,
    yAxisIndex: 10,
    clip: true,
    silent: true,
    encode: { x: 0, y: [1, 2, 3] },
    data: pDays.map((d, i) => [d, pLow[i], pCore[i], pTop[i]]),
    renderItem: function (params, api) {
      const d = api.value(0);
      const a = api.coord([d - 1.5, api.value(1)]);
      const b = api.coord([d + 1.5, api.value(2)]);
      const c = api.coord([d, api.value(2)]);
      const t = api.coord([d, api.value(3)]);
      return {
        type: 'group',
        children: [
          { type: 'rect', shape: { x: a[0], y: b[1], width: b[0] - a[0] + 0.5, height: a[1] - b[1] }, style: { fill: '#000' } },
          { type: 'line', shape: { x1: c[0], y1: c[1], x2: t[0], y2: t[1] },
            style: { stroke: '#000', lineWidth: 2.5, lineDash: [3, 3] } }
        ]
      };
    }
  },
  lineSeries('S 2012', 12, pairs(sal12, sal12Depth), { color: '#000', width: 6 }),
  lineSeries('S 2013', 12, pairs(sal13, sal13Depth), { color: '#000', width: 6, type: [18, 12] }),
  lineSeries('T 2012', 14, pairs(tem12, tem12Depth), { color: '#000', width: 6 }),
  lineSeries('T 2013', 14, pairs(tem13, tem13Depth), { color: '#000', width: 6, type: [18, 12] }),
  lineSeries('chl 2012', 16, pairs(chl12, bottleDepth), { color: '#000', width: 5 }, {
    symbol: 'circle', symbolSize: 19, showSymbol: true, itemStyle: { color: '#000' }
  }),
  lineSeries('chl 2013', 16, pairs(chl13, bottleDepth), { color: '#000', width: 5, type: [16, 11] }, {
    symbol: 'rect', symbolSize: 25, showSymbol: true,
    itemStyle: { color: 'rgba(0,0,0,0)', borderColor: '#000', borderWidth: 4.5 }
  }),
  lineSeries('2012', 18, pairs(no3_12, bottleDepth), { color: '#000', width: 5 }, {
    symbol: 'circle', symbolSize: 19, showSymbol: true, itemStyle: { color: '#000' }
  }),
  lineSeries('2013', 18, pairs(no3_13, bottleDepth), { color: '#000', width: 5, type: [16, 11] }, {
    symbol: 'rect', symbolSize: 25, showSymbol: true,
    itemStyle: { color: 'rgba(0,0,0,0)', borderColor: '#000', borderWidth: 4.5 }
  })
];

// ---------- legends ----------
function legendBox(o) {
  return Object.assign({
    orient: 'vertical',
    selectedMode: false,
    backgroundColor: '#fff',
    borderColor: '#000',
    borderWidth: 2,
    borderRadius: 0,
    textStyle: { fontSize: 48, fontFamily: FONT, color: '#000' },
    z: 20
  }, o);
}
const legends = [
  legendBox({
    left: 807, top: 475, data: ['15\u201325 m', '35\u201345 m'],
    padding: [14, 11, 10, 20], itemGap: 22, itemWidth: 98, itemHeight: 24,
    lineStyle: { width: 7 }, itemStyle: { opacity: 0 }
  }),
  legendBox({
    left: 601, top: 1739, data: ['15\u201325 m ', '35\u201345 m '],
    padding: [17, 11, 15, 21], itemGap: 14, itemWidth: 97, itemHeight: 20,
    lineStyle: { width: 2 }
  }),
  legendBox({
    left: 2762, top: 512, data: ['2012', '2013'],
    padding: [15, 13, 17, 17], itemGap: 22, itemWidth: 88, itemHeight: 30,
    textStyle: { fontSize: 40, fontFamily: FONT, color: '#000' },
    lineStyle: { width: 5 }, itemStyle: { borderWidth: 3 }
  })
];

// ---------- panel letters and bullet text ----------
const graphics = [];
function letterBox(letter, x, y, w, h, fs) {
  graphics.push({ type: 'rect', z: 30, shape: { x: x, y: y, width: w, height: h },
    style: { fill: '#fff', stroke: '#000', lineWidth: 2 } });
  graphics.push({ type: 'text', z: 31, x: x + w / 2, y: y + h / 2 + 1,
    style: { text: letter, font: 'bold ' + fs + 'px "' + FONT + '"', fill: '#000',
      align: 'center', verticalAlign: 'middle', textAlign: 'center', textVerticalAlign: 'middle' } });
}
['A', 'B', 'C', 'D', 'E', 'F'].forEach((l, i) => letterBox(l, 240, panelTops[i] + 21, 48, 66, 50));
letterBox('A', 1826, 713, 41, 56, 40);
letterBox('B', 2171, 713, 41, 56, 40);
letterBox('C', 2788, 713, 41, 56, 40);
letterBox('D', 2862, 713, 41, 56, 40);

const textFont = '92px "' + FONT + '"';
const textLeft = 1802;
const textRight = 3154;
const bulletBaselines = [1203, 1665, 2024, 2278, 2532];
const linePitch = 104;
const midOffset = 25;
const measurer = document.createElement('canvas').getContext('2d');
measurer.font = textFont;

function addWord(word, x, y) {
  graphics.push({ type: 'text', z: 5, x: x, y: y,
    style: { text: word, font: textFont, fill: '#000', align: 'left', verticalAlign: 'middle',
      textAlign: 'left', textVerticalAlign: 'middle' } });
}
bullets.forEach((lines, b) => {
  const base = bulletBaselines[b];
  graphics.push({ type: 'circle', z: 5, shape: { cx: 1769, cy: base - 30, r: 14 }, style: { fill: '#000' } });
  lines.forEach((text, k) => {
    const y = base + k * linePitch - midOffset;
    if (k === lines.length - 1) {
      addWord(text, textLeft, y);
      return;
    }
    const words = text.split(' ');
    const widths = words.map(w => measurer.measureText(w).width);
    const total = widths.reduce((s, w) => s + w, 0);
    const gap = (textRight - textLeft - total) / (words.length - 1);
    let x = textLeft;
    words.forEach((w, n) => {
      addWord(w, x, y);
      x += widths[n] + gap;
    });
  });
});

const chart = echarts.init(document.getElementById('chart'), null, { renderer: 'canvas' });
chart.setOption({
  animation: false,
  backgroundColor: '#fff',
  textStyle: { fontFamily: FONT },
  grid: grids,
  xAxis: xAxes,
  yAxis: yAxes,
  legend: legends,
  series: series,
  graphic: { elements: graphics }
});
window.addEventListener('resize', () => chart.resize());
</script>
</body>
</html>
